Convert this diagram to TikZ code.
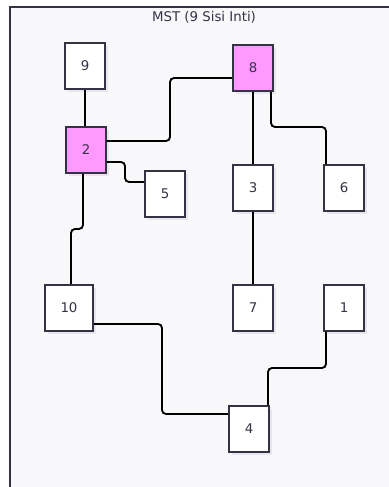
\documentclass[tikz,border=0pt]{standalone}
\usepackage{fontspec}
\setmainfont{DejaVu Sans}
\begin{document}
\begin{tikzpicture}[x=0.75pt,y=-0.75pt,
  vbox/.style={draw=framec,line width=1.2pt,fill=white,minimum width=30pt,minimum height=34.5pt,inner sep=0pt,font=\fontsize{10}{12}\selectfont,text=textc,
    preaction={fill=shadowc,transform canvas={xshift=2.5pt,yshift=-2.5pt}}},
  hbox/.style={vbox,fill=pinkc},
  edge/.style={draw=black,line width=1.4pt,rounded corners=3pt}]
\definecolor{framec}{HTML}{333344}
\definecolor{textc}{HTML}{333344}
\definecolor{pinkc}{HTML}{FF99FF}
\definecolor{bgc}{HTML}{F8F8FB}
\definecolor{shadowc}{HTML}{E6E6EC}
\useasboundingbox (0,0) rectangle (389,487);
\begin{scope}
\clip (0,0) rectangle (389,487);
\draw[fill=bgc,draw=framec,line width=1.3pt] (10,7) rectangle (400,500);
\end{scope}
\node[font=\fontsize{10}{12}\selectfont,text=textc] (title) at (204,17) {MST (9 Sisi Inti)};
\node[vbox] (n9) at (85,66) {9};
\node[hbox] (n8) at (253,68) {8};
\node[hbox] (n2) at (86,150) {2};
\node[vbox] (n5) at (165,194) {5};
\node[vbox] (n3) at (253,188) {3};
\node[vbox] (n6) at (344,188) {6};
\node[vbox,minimum width=36pt] (n10) at (69,308) {10};
\node[vbox] (n7) at (253,308) {7};
\node[vbox] (n1) at (344,308) {1};
\node[vbox] (n4) at (249,429) {4};
\coordinate (a82) at (170,141);
\coordinate (b82) at (170,78);
\coordinate (a86) at (271,127);
\coordinate (b86) at (326,127);
\coordinate (a25) at (125,162);
\coordinate (b25) at (125,182);
\coordinate (a210) at (83,229);
\coordinate (b210) at (71,229);
\coordinate (a104) at (162,324);
\coordinate (b104) at (162,414);
\coordinate (a14) at (326,368);
\coordinate (b14) at (268,368);
\draw[edge] (n9.south) -- (n9.south |- n2.north);
\draw[edge] (n2.east |- a82) -- (a82) -- (b82) -- (n8.west |- b82);
\draw[edge] (n8.south) -- (n3.north);
\draw[edge] (n8.south -| a86) -- (a86) -- (b86) -- (n6.north -| b86);
\draw[edge] (n2.east |- a25) -- (a25) -- (b25) -- (n5.west |- b25);
\draw[edge] (n2.south -| a210) -- (a210) -- (b210) -- (n10.north -| b210);
\draw[edge] (n3.south) -- (n7.north);
\draw[edge] (n10.east |- a104) -- (a104) -- (b104) -- (n4.west |- b104);
\draw[edge] (n1.south -| a14) -- (a14) -- (b14) -- (n4.north -| b14);
\end{tikzpicture}
\end{document}
